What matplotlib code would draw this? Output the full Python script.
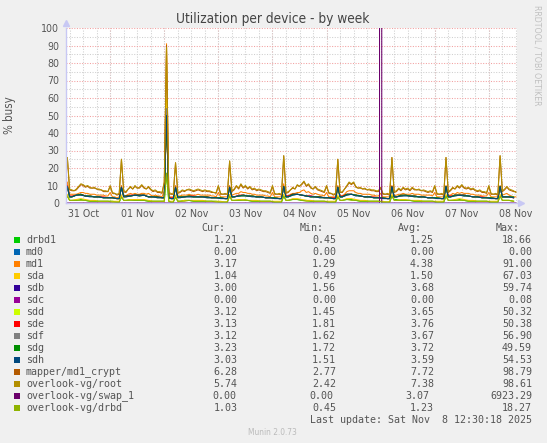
import numpy as np
import matplotlib
matplotlib.use('Agg')
import matplotlib.pyplot as plt
import matplotlib.dates as mdates
from matplotlib.ticker import MultipleLocator
from matplotlib.patches import Rectangle

W, H = 547, 443
plt.rcParams['font.stretch'] = 'condensed'

# sampling: hourly for the busy lines; the quiet ones every 2 hours,
# with an extra sample either side of each spike
start = np.datetime64('2025-10-31T04:00')
hours_1h = np.arange(0, 201)
spike_edges = [0, 2, 24, 26, 44, 46, 48, 50, 72, 74, 96, 98, 120, 122,
               144, 146, 168, 170, 192, 194]
hours_low = np.union1d(np.arange(1, 200, 2), spike_edges)
swap_hours = [0, 139.5, 140, 140.5, 200]
flat_hours = [0, 200]

root = [7, 26, 8, 7.5, 7, 8, 9.5, 11, 10.5, 9.5,
        10, 9, 8.5, 9, 8, 8, 7.5, 7, 7, 6.5,
        10, 6, 5.5, 5, 5.5, 25, 7, 6.5, 8, 9.5,
        8, 10, 8.5, 9, 10.5, 9, 8, 9.5, 8, 7,
        7.5, 6.5, 6.5, 6, 12, 89, 6, 5.5, 5, 23,
        6, 6.5, 7.5, 7, 7.5, 8, 7.5, 7, 7.5, 8,
        7.5, 7, 7.5, 7, 7, 6.5, 6, 6, 10, 5.5,
        5, 5.5, 5, 24, 7, 8, 10, 8.5, 11, 9,
        10, 8.5, 9.5, 8, 8.5, 7.5, 8, 7.5, 7, 7,
        6.5, 6, 10, 5.5, 5, 5.5, 5, 27, 6, 6.5,
        7.5, 9, 8, 10.5, 9.5, 11, 12.5, 10, 11, 9,
        8, 9.5, 8, 7.5, 7, 6.5, 10, 6, 5.5, 5,
        5.5, 25, 6, 6.5, 8, 10, 12, 11, 12, 9.5,
        8.5, 9, 8, 8.5, 7.5, 8, 7.5, 7.5, 7, 7,
        9, 5.5, 5, 5.5, 5, 26, 6.5, 7, 8.5, 7.5,
        9, 8, 8.5, 7.5, 9, 8, 7.5, 8, 7, 7.5,
        7, 6.5, 7, 6.5, 10, 5.5, 5, 5.5, 5, 26,
        6.5, 7.5, 9, 8, 10, 9, 10.5, 9, 8.5, 9,
        8, 8.5, 7.5, 7, 7.5, 6.5, 6.5, 6, 10, 5.5,
        5, 5.5, 5, 27, 7, 8, 9.5, 8, 7.5, 7, 6]

mapper = [6.5, 26, 7.5, 7, 7, 7.5, 9, 10.5, 10, 9,
          9.5, 8.5, 8.5, 8.5, 8, 7.5, 7.5, 6.5, 6.5, 6.5,
          9.5, 5.5, 5.5, 4.5, 5, 25, 6.5, 6, 8, 9,
          8, 9.5, 8.5, 8.5, 10, 8.5, 8, 9, 7.5, 6.5,
          7, 6, 6, 5.5, 11.5, 90, 5.5, 5, 5, 23,
          5.5, 6, 7, 6.5, 7.5, 7.5, 7, 6.5, 7, 7.5,
          7, 6.5, 7, 6.5, 6.5, 6, 6, 5.5, 9.5, 5,
          5, 5, 5, 24, 6.5, 7.5, 9.5, 8, 10.5, 8.5,
          9.5, 8, 9, 7.5, 8, 7, 7.5, 7, 6.5, 6.5,
          6, 5.5, 9.5, 5, 5, 5, 4.5, 27, 5.5, 6,
          7.5, 8.5, 8, 10, 9.5, 10.5, 12, 9.5, 10.5, 8.5,
          8, 9, 7.5, 7, 6.5, 6, 9.5, 5.5, 5.5, 4.5,
          5, 25, 6, 6, 8, 9.5, 11.5, 10.5, 11.5, 9,
          8.5, 8.5, 8, 8, 7.5, 7.5, 7, 7, 6.5, 6.5,
          8.5, 5, 5, 5, 4.5, 26, 6, 6.5, 8, 7,
          8.5, 7.5, 8, 7, 8.5, 7.5, 7.5, 7.5, 7, 7,
          6.5, 6, 6.5, 6, 9.5, 5, 5, 5, 4.5, 26,
          6, 7, 8.5, 8, 9.5, 8.5, 10, 8.5, 8, 8.5,
          7.5, 8, 7, 6.5, 7, 6, 6, 5.5, 9.5, 5,
          5, 5, 4.5, 27, 6.5, 7.5, 9, 7.5, 7, 6.5, 6.5]

md1 = [4.5, 12, 5, 5, 5, 5, 5.5, 6, 6, 5.5,
       5.5, 5, 5, 5, 4.5, 4.5, 4.5, 4.5, 4, 4,
       6, 3.5, 3.5, 3, 3.5, 10, 4, 4, 5, 5.5,
       5, 5.5, 5, 5, 5.5, 5.5, 5, 5.5, 4.5, 4,
       4.5, 4, 4, 3.5, 7, 91, 3.5, 3.5, 3.5, 10,
       4, 4, 4.5, 4.5, 4.5, 5, 4.5, 4.5, 4.5, 5,
       4.5, 4.5, 4.5, 4.5, 4.5, 4, 4, 3.5, 6, 3.5,
       3.5, 3.5, 3.5, 10, 4.5, 5, 5.5, 5.5, 6.5, 6,
       6, 5.5, 5.5, 5, 5, 4.5, 4.5, 4.5, 4.5, 4,
       4, 3.5, 6, 3.5, 3.5, 3.5, 3.5, 11, 4, 4,
       5, 5.5, 5.5, 6, 6, 7, 7.5, 6, 6.5, 5.5,
       5, 5.5, 5, 4.5, 4.5, 4, 6, 3.5, 3.5, 3.5,
       3.5, 10, 4, 4, 5, 6.5, 7, 7, 7, 6,
       5.5, 5.5, 5, 5, 5, 5, 4.5, 4.5, 4, 4,
       5.5, 3.5, 3.5, 3.5, 3.5, 10, 4, 4.5, 5, 5,
       5.5, 5, 5, 5, 5.5, 5, 5, 5, 4.5, 4.5,
       4.5, 4.5, 4.5, 4, 6, 3.5, 3.5, 3.5, 3.5, 10,
       4, 4.5, 5.5, 5, 6, 5.5, 6, 5.5, 5.5, 5.5,
       5, 5, 4.5, 4.5, 4.5, 4, 4, 4, 6, 3.5,
       3.5, 3.5, 3.5, 10, 4.5, 5, 5.5, 4.5, 4, 3.5, 3.5]

# quiet series on hours_low, one row per day starting 04:00
sda = [1, 5, 1.5, 1.5, 2, 2.5, 2, 1.5, 1.5, 1, 1, 1, 1, 1,
       1, 4.5, 1.5, 1.5, 2, 2, 2, 2, 1.5, 1, 1, 1, 1, 60, 1, 1,
       1, 4.5, 1, 1, 1.5, 1.5, 1.5, 1.5, 1.5, 1, 1, 1, 1, 0.5,
       1, 5, 1.5, 1.5, 2, 2, 1.5, 1.5, 1.5, 1, 1, 1, 1, 1,
       1, 5, 1.5, 1.5, 2.5, 2.5, 2, 1.5, 1.5, 1, 1, 1, 1, 1,
       1, 4.5, 1.5, 1.5, 2.5, 2.5, 2, 1.5, 1.5, 1, 1, 1, 1, 0.5,
       1, 5, 1.5, 1.5, 2, 2, 1.5, 1.5, 1.5, 1, 1, 1, 1, 1,
       1, 5, 1.5, 1.5, 2, 2.5, 2, 1.5, 1.5, 1, 1, 1, 1, 1,
       1, 5, 1.5, 1.5, 1.5, 1]

sdb = [3, 9, 3.5, 3.5, 4.5, 5, 4, 4, 3.5, 3.5, 3, 3, 3, 2.5,
       2.5, 9, 3.5, 4, 4, 4.5, 4.5, 4.5, 3.5, 3.5, 3.5, 3, 3, 52, 3, 2.5,
       2.5, 8.5, 3, 3.5, 3.5, 4, 3.5, 3.5, 3.5, 3.5, 3, 3, 3, 2.5,
       2.5, 9, 3.5, 3.5, 4, 4.5, 4, 4, 3.5, 3.5, 3, 3, 3, 2.5,
       2.5, 9, 3.5, 4, 5, 5, 4.5, 4, 4, 3.5, 3.5, 3, 3, 2.5,
       2.5, 9, 3.5, 3.5, 5, 5, 4.5, 4, 3.5, 3.5, 3, 3, 3, 2.5,
       2.5, 9, 3.5, 3.5, 4, 4.5, 4, 4, 3.5, 3.5, 3, 3, 3, 2.5,
       2.5, 9, 3.5, 3.5, 4.5, 4.5, 4.5, 4, 3.5, 3.5, 3, 3, 3, 2.5,
       2.5, 9, 3.5, 3.5, 3.5, 3]

sdd = [3, 9, 3.5, 3.5, 4.5, 4.5, 4, 4, 3.5, 3.5, 3, 3, 3, 2.5,
       2.5, 8.5, 3.5, 3.5, 4, 4.5, 4, 4.5, 3.5, 3.5, 3, 3, 3, 48, 3, 2.5,
       2.5, 8.5, 3, 3, 3.5, 4, 3.5, 3.5, 3.5, 3, 3, 3, 3, 2.5,
       2.5, 9, 3.5, 3.5, 4, 4, 4, 4, 3.5, 3.5, 3, 3, 3, 2.5,
       2.5, 9, 3.5, 3.5, 4.5, 5, 4.5, 4, 3.5, 3.5, 3, 3, 3, 2.5,
       2.5, 8.5, 3.5, 3.5, 4.5, 5, 4.5, 4, 3.5, 3.5, 3, 3, 3, 2.5,
       2.5, 9, 3.5, 3.5, 4, 4.5, 4, 3.5, 3.5, 3.5, 3, 3, 3, 2.5,
       2.5, 9, 3.5, 3.5, 4, 4.5, 4, 4, 3.5, 3.5, 3, 3, 3, 2.5,
       2.5, 9, 3.5, 3.5, 3.5, 3]

sde = [3, 10, 4, 4, 4.5, 5, 4, 4, 3.5, 3.5, 3.5, 3, 3, 2.5,
       2.5, 9, 4, 4, 4.5, 4.5, 4.5, 4.5, 3.5, 3.5, 3.5, 3, 3, 48, 3, 3,
       3, 9, 3.5, 3.5, 3.5, 4, 4, 3.5, 3.5, 3.5, 3, 3, 3, 2.5,
       2.5, 9, 3.5, 3.5, 4.5, 4.5, 4, 4, 3.5, 3.5, 3, 3, 3, 2.5,
       2.5, 9.5, 4, 4, 5, 5, 4.5, 4, 4, 3.5, 3.5, 3, 3, 3,
       3, 9, 4, 4, 5, 5, 4.5, 4, 3.5, 3.5, 3.5, 3, 3, 2.5,
       2.5, 9.5, 3.5, 3.5, 4.5, 4.5, 4, 4, 3.5, 3.5, 3, 3, 3, 2.5,
       2.5, 9.5, 4, 4, 4.5, 4.5, 4.5, 4, 3.5, 3.5, 3.5, 3, 3, 2.5,
       2.5, 9.5, 3.5, 3.5, 3.5, 3]

sdf = [3, 9, 3.5, 3.5, 4.5, 4.5, 4, 4, 3.5, 3.5, 3, 3, 3, 2.5,
       2.5, 9, 3.5, 3.5, 4, 4.5, 4, 4.5, 3.5, 3.5, 3, 3, 3, 54, 3, 2.5,
       2.5, 8.5, 3.5, 3.5, 3.5, 3.5, 3.5, 3.5, 3.5, 3, 3, 3, 3, 2.5,
       2.5, 9, 3.5, 3.5, 4, 4.5, 4, 4, 3.5, 3.5, 3, 3, 3, 2.5,
       2.5, 9, 3.5, 3.5, 4.5, 5, 4.5, 4, 3.5, 3.5, 3, 3, 3, 2.5,
       2.5, 9, 3.5, 3.5, 4.5, 5, 4.5, 4, 3.5, 3.5, 3, 3, 3, 2.5,
       2.5, 9, 3.5, 3.5, 4, 4.5, 4, 4, 3.5, 3.5, 3, 3, 3, 2.5,
       2.5, 9, 3.5, 3.5, 4.5, 4.5, 4, 4, 3.5, 3.5, 3, 3, 3, 2.5,
       2.5, 9, 3.5, 3.5, 3.5, 3]

sdg = [3, 9.5, 3.5, 3.5, 4.5, 5, 4, 4, 3.5, 3.5, 3, 3, 3, 2.5,
       2.5, 9, 4, 4, 4, 4.5, 4.5, 4.5, 3.5, 3.5, 3.5, 3, 3, 47, 3, 2.5,
       2.5, 9, 3.5, 3.5, 3.5, 4, 3.5, 3.5, 3.5, 3.5, 3, 3, 3, 2.5,
       2.5, 9, 3.5, 3.5, 4, 4.5, 4, 4, 3.5, 3.5, 3, 3, 3, 2.5,
       2.5, 9.5, 3.5, 3.5, 5, 5, 4.5, 4, 3.5, 3.5, 3.5, 3, 3, 2.5,
       2.5, 9, 3.5, 3.5, 5, 5, 4.5, 4, 3.5, 3.5, 3, 3, 3, 2.5,
       2.5, 9, 3.5, 3.5, 4.5, 4.5, 4, 4, 3.5, 3.5, 3, 3, 3, 2.5,
       2.5, 9.5, 3.5, 3.5, 4.5, 4.5, 4.5, 4, 3.5, 3.5, 3, 3, 3, 2.5,
       2.5, 9.5, 3.5, 3.5, 3.5, 3.5]

sdh = [3, 9.5, 3.5, 3.5, 4.5, 4.5, 4, 3.5, 3.5, 3.5, 3, 3, 3, 2.5,
       2.5, 9, 3.5, 3.5, 4, 4.5, 4, 4.5, 3.5, 3.5, 3, 3, 3, 50, 3, 2.5,
       2.5, 9, 3, 3, 3.5, 3.5, 3.5, 3.5, 3.5, 3, 3, 3, 2.5, 2.5,
       2.5, 9, 3.5, 3.5, 4, 4, 4, 3.5, 3.5, 3.5, 3, 3, 2.5, 2.5,
       2.5, 9.5, 3.5, 3.5, 4.5, 5, 4.5, 4, 3.5, 3.5, 3, 3, 3, 2.5,
       2.5, 9, 3.5, 3.5, 4.5, 5, 4, 4, 3.5, 3.5, 3, 3, 2.5, 2.5,
       2.5, 9.5, 3.5, 3.5, 4, 4, 4, 3.5, 3.5, 3.5, 3, 3, 2.5, 2.5,
       2.5, 9.5, 3.5, 3.5, 4, 4.5, 4, 4, 3.5, 3.5, 3, 3, 2.5, 2.5,
       2.5, 9.5, 3.5, 3.5, 3.5, 3]

drbd1 = [1, 4, 1.5, 1.5, 1.5, 2, 1.5, 1, 1, 1, 1, 1, 1, 0.5,
         0.5, 3.5, 1.5, 1.5, 2, 1.5, 1.5, 1.5, 1, 1, 1, 1, 1, 17, 1, 0.5,
         0.5, 3.5, 1, 1, 1.5, 1.5, 1, 1, 1, 1, 1, 1, 0.5, 0.5,
         0.5, 4, 1.5, 1.5, 1.5, 2, 1.5, 1, 1, 1, 1, 1, 0.5, 0.5,
         0.5, 4, 1.5, 1.5, 2, 2, 1.5, 1.5, 1, 1, 1, 1, 0.5, 0.5,
         0.5, 3.5, 1.5, 1.5, 2, 2, 1.5, 1, 1, 1, 1, 1, 0.5, 0.5,
         0.5, 4, 2, 2, 1.5, 1.5, 1.5, 1, 1, 1, 1, 1, 0.5, 0.5,
         0.5, 4, 1.5, 1.5, 1.5, 2, 1.5, 1, 1, 1, 1, 1, 0.5, 0.5,
         0.5, 4, 1.5, 1.5, 1.5, 1]

drbd = [1, 4, 1.5, 1.5, 1.5, 1.5, 1.5, 1, 1, 1, 1, 1, 0.5, 0.5,
        0.5, 3.5, 1.5, 1.5, 1.5, 1.5, 1.5, 1.5, 1, 1, 1, 1, 1, 17, 1, 0.5,
        0.5, 3.5, 1, 1, 1, 1.5, 1, 1, 1, 1, 1, 0.5, 0.5, 0.5,
        0.5, 4, 1.5, 1.5, 1.5, 1.5, 1.5, 1, 1, 1, 1, 1, 0.5, 0.5,
        0.5, 4, 1.5, 1.5, 2, 2, 1.5, 1, 1, 1, 1, 1, 0.5, 0.5,
        0.5, 3.5, 1.5, 1.5, 2, 1.5, 1.5, 1, 1, 1, 1, 1, 0.5, 0.5,
        0.5, 4, 1.5, 1.5, 1.5, 1.5, 1.5, 1, 1, 1, 1, 1, 0.5, 0.5,
        0.5, 4, 1.5, 1.5, 1.5, 1.5, 1.5, 1, 1, 1, 1, 1, 0.5, 0.5,
        0.5, 4, 1.5, 1.5, 1.5, 1]

swap_1 = [0, 0, 6923.29, 0, 0]
md0 = [0, 0]
sdc = [0, 0]

labels = ['drbd1', 'md0', 'md1', 'sda', 'sdb', 'sdc', 'sdd', 'sde', 'sdf',
          'sdg', 'sdh', 'mapper/md1_crypt', 'overlook-vg/root',
          'overlook-vg/swap_1', 'overlook-vg/drbd']
colors = ['#00CC00', '#0066B3', '#FF8000', '#FFCC00', '#330099', '#990099',
          '#CCFF00', '#FF0000', '#808080', '#008F00', '#00487D', '#B35A00',
          '#B38F00', '#6B006B', '#8FB300']
cur_vals = [1.21, 0.00, 3.17, 1.04, 3.00, 0.00, 3.12, 3.13, 3.12, 3.23, 3.03, 6.28, 5.74, 0.00, 1.03]
min_vals = [0.45, 0.00, 1.29, 0.49, 1.56, 0.00, 1.45, 1.81, 1.62, 1.72, 1.51, 2.77, 2.42, 0.00, 0.45]
avg_vals = [1.25, 0.00, 4.38, 1.50, 3.68, 0.00, 3.65, 3.76, 3.67, 3.72, 3.59, 7.72, 7.38, 3.07, 1.23]
max_vals = [18.66, 0.00, 91.00, 67.03, 59.74, 0.08, 50.32, 50.38, 56.90, 49.59, 54.53, 98.79, 98.61, 6923.29, 18.27]


def to_time(hours):
    minutes = np.round(np.asarray(hours, dtype=float) * 60).astype(int)
    return start + minutes.astype('timedelta64[m]')


t1 = to_time(hours_1h)
tl = to_time(hours_low)
tf = to_time(flat_hours)
series = [
    (tl, drbd1), (tf, md0), (t1, md1), (tl, sda), (tl, sdb), (tf, sdc),
    (tl, sdd), (tl, sde), (tl, sdf), (tl, sdg), (tl, sdh), (t1, mapper),
    (t1, root), (to_time(swap_hours), swap_1), (tl, drbd),
]

fig = plt.figure(figsize=(W / 100, H / 100), dpi=100, facecolor='#F0F0F0')
ax = fig.add_axes([66 / W, 1 - 203 / H, (517 - 66) / W, (203 - 28) / H])
ax.set_facecolor('white')

for (t, v), c in zip(series, colors):
    ax.plot(t, v, color=c, lw=0.75)

ax.set_ylim(0, 100)
ax.set_xlim(to_time([0.4])[0], to_time([200.5])[0])

# grid like rrdtool: gray minor, red major, dotted
ax.yaxis.set_major_locator(MultipleLocator(10))
ax.yaxis.set_minor_locator(MultipleLocator(5))
ax.xaxis.set_major_locator(mdates.HourLocator(byhour=[12]))
ax.xaxis.set_major_formatter(mdates.DateFormatter('%d %b'))
ax.xaxis.set_minor_locator(mdates.HourLocator(byhour=[0, 6, 12, 18]))
ax.xaxis.remove_overlapping_locs = False
ax.set_axisbelow(True)
ax.grid(which='minor', color='#CFCFCF', lw=0.75, ls=(0, (1, 1.5)))
ax.grid(which='major', axis='y', color='#F2A0A0', lw=0.75, ls=(0, (1, 1.5)))
for d in np.arange(np.datetime64('2025-11-01'), np.datetime64('2025-11-09')):
    ax.axvline(d, color='#F2A0A0', lw=0.75, ls=(0, (1, 1.5)), zorder=0.5)

ax.tick_params(which='both', length=0, labelsize=7.6, labelcolor='#555555')
ax.tick_params(axis='y', pad=5)
ax.tick_params(axis='x', pad=4)
for s in ['top', 'right']:
    ax.spines[s].set_visible(False)
for s in ['left', 'bottom']:
    ax.spines[s].set_color('#C8C8F4')
    ax.spines[s].set_linewidth(1)
ax.plot([0], [1.03], marker='^', ms=4, color='#C8C8F4', transform=ax.transAxes, clip_on=False)
ax.plot([1.008], [0], marker='>', ms=4, color='#C8C8F4', transform=ax.transAxes, clip_on=False)

fig.text(273 / W, 1 - 19.5 / H, 'Utilization per device - by week', ha='center', va='center',
         fontsize=9.8, color='#444444')
fig.text(10 / W, 1 - 115 / H, '% busy', rotation=90, ha='center', va='center',
         fontsize=8.3, color='#555555')
fig.text(537 / W, 1 - 5 / H, 'RRDTOOL / TOBI OETIKER', rotation=270, ha='center', va='top',
         fontsize=6.3, color='#C0C0C0')

# legend block
mono = dict(family='DejaVu Sans Mono', fontsize=7.2, color='#555555', fontstretch='normal')
col_right = [237.6, 336, 434, 532]
row0, step = 240, 12
for x, head in zip(col_right, ['Cur:', 'Min:', 'Avg:', 'Max:']):
    fig.text((x - 12) / W, 1 - 227.7 / H, head, ha='right', va='center', **mono)
for i, name in enumerate(labels):
    y = row0 + i * step
    fig.patches.append(Rectangle((14 / W, 1 - (y + 2.75) / H), 5.5 / W, 5.5 / H,
                                 transform=fig.transFigure, facecolor=colors[i], edgecolor='none'))
    fig.text(26 / W, 1 - y / H, name, ha='left', va='center', **mono)
    shifts = [-1, -2.5, -4.5, 0] if max_vals[i] >= 1000 else [0, 0, 0, 0]
    for x, dx, v in zip(col_right, shifts, [cur_vals[i], min_vals[i], avg_vals[i], max_vals[i]]):
        fig.text((x + dx) / W, 1 - y / H, f'{v:.2f}', ha='right', va='center', **mono)
fig.text(532 / W, 1 - (row0 + 15 * step) / H, 'Last update: Sat Nov  8 12:30:18 2025',
         ha='right', va='center', **mono)
fig.text(272.5 / W, 1 - 432.3 / H, 'Munin 2.0.73', ha='center', va='center',
         fontsize=6, color='#BBBBBB')

fig.savefig('out.png', dpi=100, facecolor=fig.get_facecolor())
